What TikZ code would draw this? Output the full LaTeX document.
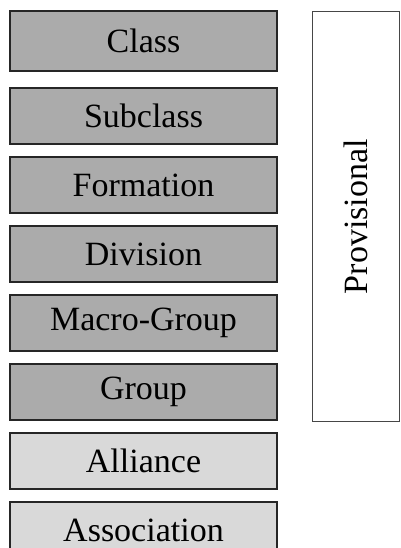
\documentclass[tikz,border=0pt]{standalone}
\usepackage{fontspec}
\setmainfont{Liberation Serif}
\usetikzlibrary{positioning, math}
\definecolor{upgray}{RGB}{171,171,171}
\definecolor{lowgray}{RGB}{217,217,217}
\definecolor{edgegray}{RGB}{70,70,70}

\tikzset{
unitbox/.style={draw=black!85, line width=1.2pt, minimum width=267pt, minimum height=56pt, inner sep=0pt, outer sep=0pt, font=\fontsize{34}{40}\selectfont},
upperbox/.style={unitbox, fill=upgray},
lowerbox/.style={unitbox, fill=lowgray},
}

\begin{document}
\begin{tikzpicture}[x=1pt, y=1pt, node distance=13pt]
\tikzmath{
\W=400;
\H=548;
}
\useasboundingbox (0,0) rectangle (\W,-\H);
\clip (0,0) rectangle (\W,-\H);

% ranks of the hierarchy
\node[upperbox, minimum height=60pt, anchor=north west] (class) at (10,-11) {Class};
\node[upperbox, below=17pt of class] (subclass) {Subclass};
\node[upperbox, below=of subclass] (formation) {Formation};
\node[upperbox, below=of formation] (division) {Division};
\node[upperbox, below=of division] (macrogroup) {Macro-Group};
\node[upperbox, below=of macrogroup] (group) {Group};
\node[lowerbox, below=of group] (alliance) {Alliance};
\node[lowerbox, below=of alliance] (association) {Association};

% bracket box on the right
\node[draw=edgegray, line width=1.2pt, rotate=90, minimum width=410pt, minimum height=87pt, anchor=north east, font=\fontsize{34}{40}\selectfont] (provisional) at (312,-11) {Provisional};

\end{tikzpicture}
\end{document}
